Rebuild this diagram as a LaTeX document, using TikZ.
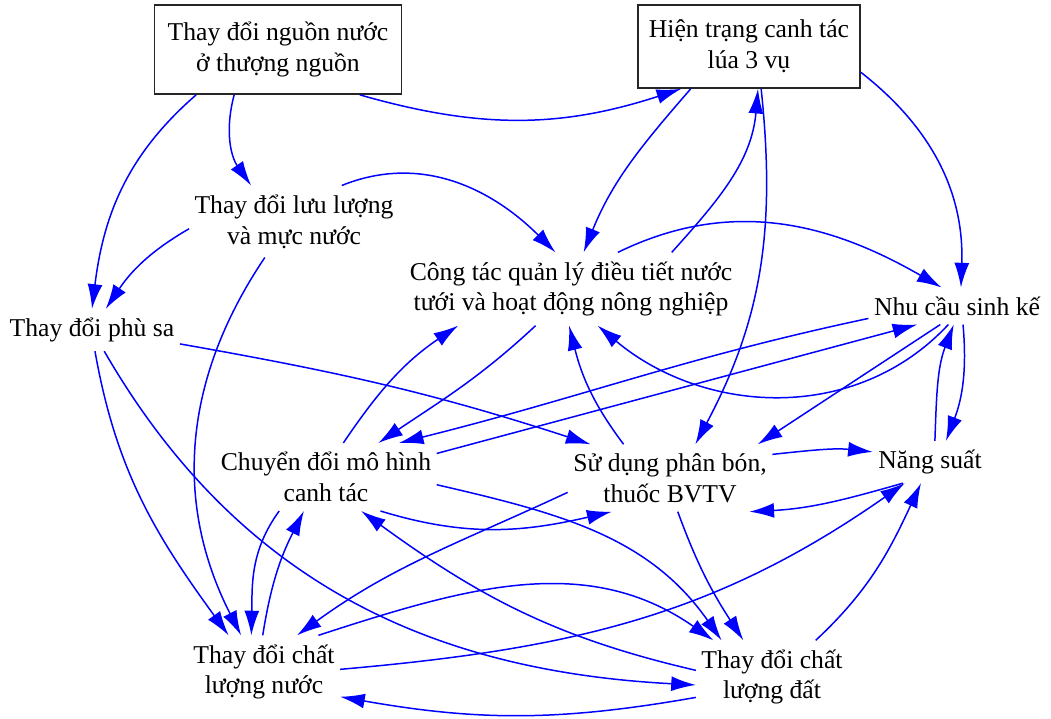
\documentclass[tikz,border=0pt]{standalone}
\usepackage{fontspec}
\setmainfont{Liberation Serif}
\usetikzlibrary{arrows.meta}
\tikzset{
  varnode/.style={
    align=center, inner xsep=3pt, inner ysep=5pt,
    font=\fontsize{14.6pt}{17.6pt}\selectfont
  },
  boxnode/.style={
    varnode, draw=black!85, rectangle, line width=1pt
  },
  link/.style={
    -{Latex[length=14pt,width=8.5pt]}, blue, line width=0.85pt
  }
}

\begin{document}
\begin{tikzpicture}
  \useasboundingbox (0,0) rectangle (21.02,14.38);
  \node[boxnode, minimum width=4.94cm, minimum height=1.78cm] (tn) at (5.56, 13.39) {Thay đổi nguồn nước\\ở thượng nguồn};
  \node[boxnode, minimum width=4.44cm, minimum height=1.66cm] (ht) at (14.98, 13.45) {Hiện trạng canh tác\\lúa 3 vụ};
  \node[varnode] (ll) at (5.88, 9.95) {Thay đổi lưu lượng\\và mực nước};
  \node[varnode] (ct) at (11.42, 8.60) {Công tác quản lý điều tiết nước\\tưới và hoạt động nông nghiệp};
  \node[varnode] (nc) at (19.14, 8.26) {Nhu cầu sinh kế};
  \node[varnode] (ps) at (1.84, 7.78) {Thay đổi phù sa};
  \node[varnode] (cd) at (6.52, 4.84) {Chuyển đổi mô hình\\canh tác};
  \node[varnode] (sd) at (13.40, 4.82) {Sử dụng phân bón,\\thuốc BVTV};
  \node[varnode] (ns) at (18.60, 5.14) {Năng suất};
  \node[varnode] (cn) at (5.28, 0.94) {Thay đổi chất\\lượng nước};
  \node[varnode] (cdd) at (15.44, 0.84) {Thay đổi chất\\lượng đất};

  \draw[link] (tn.-134) to[out=-105, in=125] (ll.140);
  \draw[link] (tn.-151) to[out=-139, in=83] (ps.90);
  \draw[link] (tn.-29) to[out=-16, in=-162] (ht.-148);
  \draw[link] (ll.-176) to[out=-150, in=56] (ps.57);
  \draw[link] (ll.-129) to[out=-124, in=117] (cn.122);
  \draw[link] (ll.37) to[out=22, in=135] (ct.113);
  \draw[link] (ht.-144) to[out=-131, in=68] (ct.71);
  \draw[link] (ct.20) to[out=48, in=-95] (ht.-78);
  \draw[link] (ht.-13) to[out=-38, in=88] (nc.78);
  \draw[link] (ht.-74) to[out=-84, in=62] (sd.53);
  \draw[link] (ct.38) to[out=26, in=150] (nc.130);
  \draw[link] (ct.-134) to[out=-137, in=34] (cd.33);
  \draw[link] (cd.63) to[out=56, in=-146] (ct.-162);
  \draw[link] (sd.144) to[out=127, in=-76] (ct.-93);
  \draw[link] (nc.-115) to[out=-133, in=-40] (ct.-54);
  \draw[link] (nc.-172) to[out=-168, in=14] (cd.25);
  \draw[link] (cd.12) -- (nc.-155);
  \draw[link] (nc.-132) -- (sd.21);
  \draw[link] (nc.-72) to[out=-85, in=69] (ns.53);
  \draw[link] (ns.77) to[out=88, in=-111] (nc.-100);
  \draw[link] (sd.13) to[out=6, in=174] (ns.170);
  \draw[link] (ns.-142) to[out=-164, in=3] (sd.-23);
  \draw[link] (cn.2) to[out=5, in=-145] (ns.-140);
  \draw[link] (cdd.40) to[out=43, in=-115] (ns.-113);
  \draw[link] (ps.-9) to[out=-10, in=162] (sd.157);
  \draw[link] (ps.-82) to[out=-80, in=126] (cn.134);
  \draw[link] (ps.-60) to[out=-60, in=177] (cdd.-174);
  \draw[link] (cd.-144) to[out=-126, in=89] (cn.109);
  \draw[link] (cn.92) to[out=81, in=-117] (cd.-123);
  \draw[link] (sd.-172) to[out=-155, in=36] (cn.48);
  \draw[link] (cd.-32) to[out=-17, in=-167] (sd.-150);
  \draw[link] (cd.-4) to[out=-13, in=125] (cdd.144);
  \draw[link] (cdd.175) to[out=167, in=-36] (cd.-44);
  \draw[link] (sd.-77) to[out=-70, in=123] (cdd.128);
  \draw[link] (cn.34) to[out=18, in=145] (cdd.148);
  \draw[link] (cdd.-165) to[out=-170, in=-10] (cn.-18);
\end{tikzpicture}
\end{document}
